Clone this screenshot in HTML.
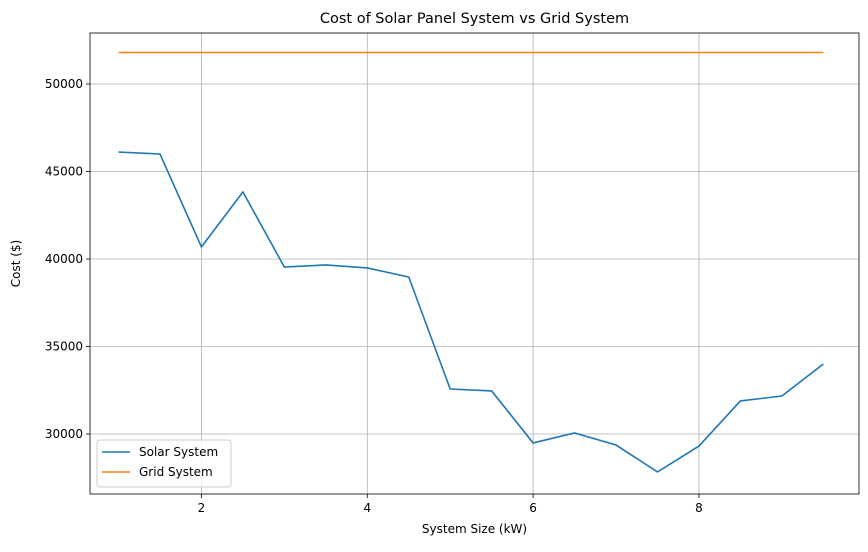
<!DOCTYPE html>
<html><head><meta charset="utf-8"><style>
body{margin:0;background:#fff;font-family:"Liberation Sans","DejaVu Sans",sans-serif;}
svg text{font-family:"DejaVu Sans","Liberation Sans",sans-serif;}
</style></head><body>
<svg id="chart" width="868" height="547" xmlns="http://www.w3.org/2000/svg"></svg>
<script>
const sizes=[1,1.5,2,2.5,3,3.5,4,4.5,5,5.5,6,6.5,7,7.5,8,8.5,9,9.5];
const solarCost=[46110,46000,40690,43830,39540,39660,39490,38970,32570,32460,29490,30060,29370,27830,29310,31890,32170,34000];
const gridCost=[51800,51800,51800,51800,51800,51800,51800,51800,51800,51800,51800,51800,51800,51800,51800,51800,51800,51800];
const xTicks=[2,4,6,8];
const yTicks=[30000,35000,40000,45000,50000];
const L=90,R=859,T=33,B=494;
const xMin=0.656,xMax=9.93,yMin=26571,yMax=52914;
const sx=v=>L+(v-xMin)/(xMax-xMin)*(R-L);
const sy=v=>B-(v-yMin)/(yMax-yMin)*(B-T);
const svg=document.getElementById('chart');
const NS='http://www.w3.org/2000/svg';
function mk(tag,attrs,parent){const e=document.createElementNS(NS,tag);for(const k in attrs)e.setAttribute(k,attrs[k]);(parent||svg).appendChild(e);return e;}
const grid=mk('g',{});


xTicks.forEach(t=>{const x=sx(t);
 mk('line',{x1:x,x2:x,y1:T,y2:B,stroke:'#b0b0b0','stroke-width':0.8},grid);
 mk('line',{x1:x,x2:x,y1:B,y2:B+4,stroke:'#000','stroke-width':0.8});
 const tx=mk('text',{x:x,y:B+18,'text-anchor':'middle','font-size':12});tx.textContent=t;
 
 });
yTicks.forEach(t=>{const y=sy(t);
 mk('line',{x1:L,x2:R,y1:y,y2:y,stroke:'#b0b0b0','stroke-width':0.8},grid);
 mk('line',{x1:L-4,x2:L,y1:y,y2:y,stroke:'#000','stroke-width':0.8});
 const tx=mk('text',{x:L-7,y:y+4,'text-anchor':'end','font-size':12});tx.textContent=t;
 
 });
function line(data,color,name){const p=mk('path',{d:data.map((v,i)=>(i?'L':'M')+sx(sizes[i])+','+sy(v)).join(''),fill:'none',stroke:color,'stroke-width':1.6});
 
 }
line(solarCost,'#1f77b4','solar-system-line');
line(gridCost,'#ff7f0e','grid-system-line');
const frame=mk('rect',{x:L,y:T,width:R-L,height:B-T,fill:'none',stroke:'#000','stroke-width':0.8});


const title=mk('text',{x:(L+R)/2,y:23,'text-anchor':'middle','font-size':14.5});title.textContent='Cost of Solar Panel System vs Grid System';


const xl=mk('text',{x:(L+R)/2,y:533,'text-anchor':'middle','font-size':12});xl.textContent='System Size (kW)';


const yl=mk('text',{x:20,y:(T+B)/2,'text-anchor':'middle','font-size':12,transform:`rotate(-90 20 ${(T+B)/2})`});yl.textContent='Cost ($)';


const lg=mk('g',{});


mk('rect',{x:97,y:440,width:134,height:47,rx:3,fill:'#fff','fill-opacity':0.8,stroke:'#ccc'},lg);
[['Solar System','#1f77b4',456],['Grid System','#ff7f0e',476]].forEach(([n,c,y])=>{
 mk('line',{x1:102,x2:130,y1:y-4,y2:y-4,stroke:c,'stroke-width':1.6},lg);
 const t=mk('text',{x:139,y:y,'font-size':12},lg);t.textContent=n;
 
 });
</script>
</body></html>
